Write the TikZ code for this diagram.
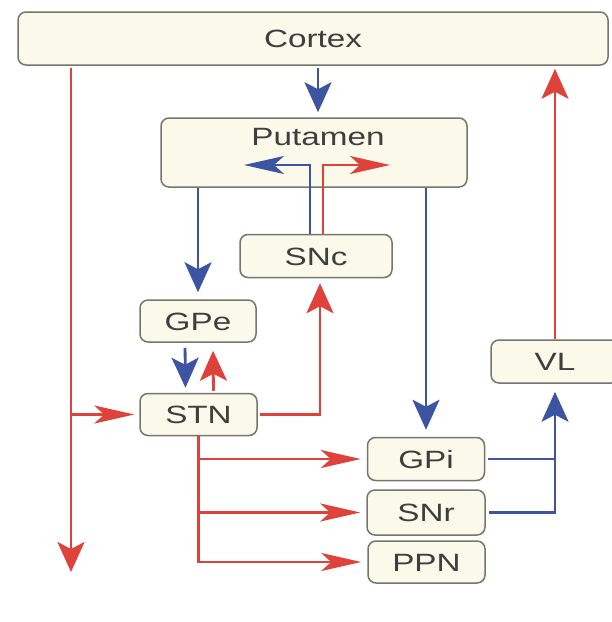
\documentclass[tikz,border=0pt]{standalone}
\usepackage{fontspec}
\setmainfont[FakeStretch=1.33]{Liberation Sans}
\usetikzlibrary{arrows.meta,calc}

\definecolor{pathred}{RGB}{222,66,58}
\definecolor{pathblue}{RGB}{60,84,162}
\definecolor{boxfill}{RGB}{250,249,234}
\definecolor{boxline}{RGB}{118,118,110}
\definecolor{labelgray}{RGB}{62,62,62}

\tikzset{
  region/.style={draw=boxline, line width=1.5pt, fill=boxfill, rounded corners=8pt,
    inner sep=0pt, text=labelgray, font=\fontsize{25}{30}\selectfont,
    text height=18pt, text depth=0pt},
  regionlabel/.style={inner sep=0pt, text=labelgray, font=\fontsize{25}{30}\selectfont,
    text height=18pt, text depth=0pt},
  excite/.style={draw=pathred, line width=2.8pt},
  inhibit/.style={draw=pathblue, line width=2.8pt},
  vtip/.style={-{Stealth[length=30pt, width=27pt, inset=7pt]}},
  htip/.style={-{Stealth[length=40pt, width=18pt, inset=10pt]}},
}

\begin{document}
\begin{tikzpicture}[x=1pt, y=-1pt]
  \clip (0,0) rectangle (612,622);
  \useasboundingbox (0,0) rectangle (612,622);
  \fill[white] (0,0) rectangle (612,622);

  % regions
  \node[region, minimum width=590pt, minimum height=53pt] (cortex) at (313,38.5) {Cortex};
  \node[region, minimum width=306pt, minimum height=69pt] (put) at (314,152.5) {};
  \node[regionlabel] (putlabel) at (318,136) {Putamen};
  \node[region, minimum width=152pt, minimum height=43pt] (snc) at (316,256) {SNc};
  \node[region, minimum width=116pt, minimum height=42pt] (gpe) at (198,321) {GPe};
  \node[region, minimum width=117pt, minimum height=42pt] (stn) at (198.5,414.5) {STN};
  \node[region, minimum width=128pt, minimum height=43pt] (vl) at (555,361.5) {VL};
  \node[region, minimum width=117pt, minimum height=43pt] (gpi) at (426,459) {GPi};
  \node[region, minimum width=118pt, minimum height=45pt] (snr) at (426,512.5) {SNr};
  \node[region, minimum width=117pt, minimum height=42pt] (ppn) at (426.5,562) {PPN};

  % free ends of connectors
  \coordinate (bluetip) at (244,165);
  \coordinate (redtip) at (390,165);
  \coordinate (leftend) at (71,572);

  % cortex -> putamen
  \draw[inhibit, vtip, shorten <=2pt, shorten >=5pt] ([xshift=5pt]cortex.south) -- ([xshift=4pt]put.north);

  % SNc -> putamen (two branches)
  \draw[inhibit, htip] ([xshift=-6pt]snc.north) |- (bluetip);
  \draw[excite, htip] ([xshift=7pt]snc.north) |- (redtip);

  % putamen -> GPe and GPi
  \draw[inhibit, vtip, shorten >=7pt] (put.south -| gpe.north) -- (gpe.north);
  \draw[inhibit, vtip, shorten >=7pt] (put.south -| gpi.north) -- (gpi.north);

  % GPe <-> STN
  \draw[inhibit, vtip, shorten <=5pt, shorten >=5pt] ([xshift=-13pt]gpe.south) -- ([xshift=-13pt]stn.north);
  \draw[excite, vtip, shorten <=2pt, shorten >=8pt] ([xshift=15pt]stn.north) -- ([xshift=15pt]gpe.south);

  % STN -> SNc
  \draw[excite, vtip, shorten <=2pt, shorten >=5pt] (stn.east) -| ([xshift=4pt]snc.south);

  % cortex -> STN and descending output
  \draw[excite, vtip, shorten <=2pt] (cortex.south -| leftend) -- (leftend);
  \draw[excite, htip, shorten >=5pt] (leftend |- stn.west) -- (stn.west);

  % STN -> GPi, SNr, PPN
  \draw[excite, htip, shorten >=6pt] (stn.south) |- (ppn.west);
  \draw[excite, htip, shorten >=6pt] (stn.south |- gpi.west) -- (gpi.west);
  \draw[excite, htip, shorten >=6pt] (stn.south |- snr.west) -- (snr.west);

  % GPi, SNr -> VL
  \draw[inhibit, vtip, shorten <=3pt, shorten >=8pt] (snr.east) -| (vl.south);
  \draw[inhibit, shorten <=3pt] (gpi.east) -- (gpi.east -| vl.south);

  % VL -> cortex
  \draw[excite, vtip, shorten >=3pt] (vl.north) -- (vl.north |- cortex.south);
\end{tikzpicture}
\end{document}
